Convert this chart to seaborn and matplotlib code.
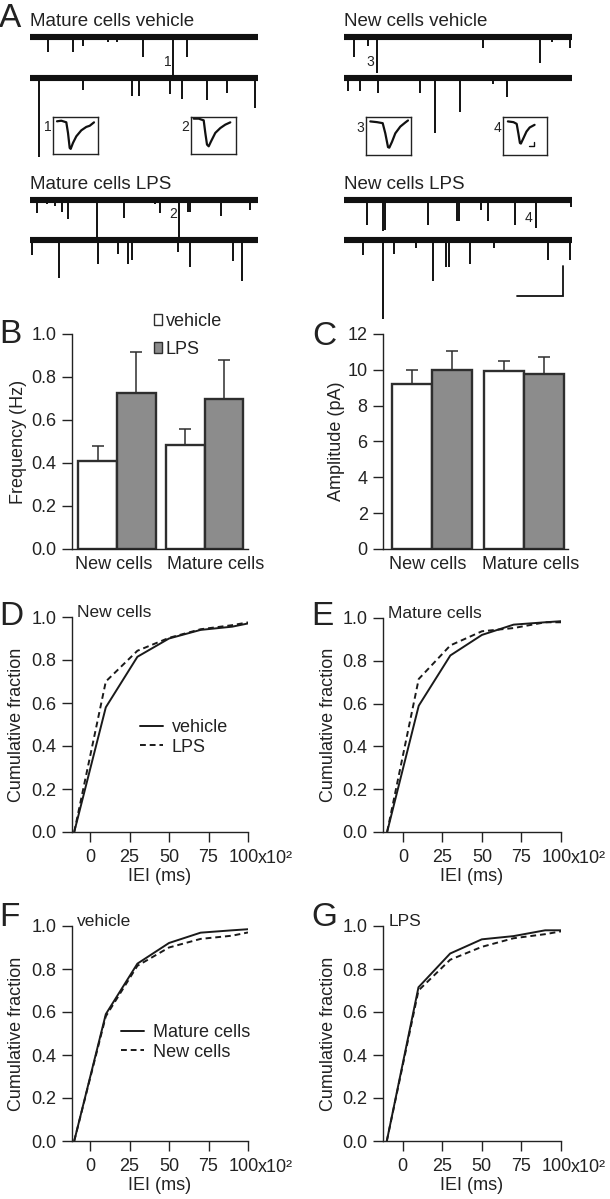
import numpy as np
import pandas as pd
import matplotlib
matplotlib.use("Agg")
import matplotlib.pyplot as plt
import seaborn as sns
from matplotlib.lines import Line2D
from matplotlib.patches import Patch
from matplotlib.transforms import ScaledTranslation

# ------------------------------------------------------------------ data
# Panel A: example sweeps -> event times (s) and event amplitudes (pA)
mature_veh_s1_t = [0.79, 1.89, 2.32, 3.42, 3.82, 4.96, 6.27, 6.89]
mature_veh_s1_a = [10, 10, 6, 3, 3, 13, 27, 13]
mature_veh_s2_t = [0.39, 2.32, 4.47, 4.78, 6.14, 6.67, 7.76, 8.64, 9.87]
mature_veh_s2_a = [53, 8, 12, 12, 11, 14, 15, 10, 20]

new_veh_s1_t = [0.44, 1.05, 1.45, 6.10, 8.60, 9.12, 9.91]
new_veh_s1_a = [13, 6, 24, 7, 17, 3, 7]
new_veh_s2_t = [0.18, 0.70, 1.49, 3.33, 3.99, 5.09, 6.54, 7.15]
new_veh_s2_a = [9, 9, 10, 10, 37, 23, 4, 13]

mature_lps_s1_t = [0.31, 0.75, 1.10, 1.40, 1.67, 2.94, 4.12, 5.48, 5.70, 6.54, 6.93, 7.02, 8.38, 9.65]
mature_lps_s1_a = [9, 3, 4, 8, 13, 25, 12, 3, 9, 25, 8, 8, 11, 7]
mature_lps_s2_t = [0.09, 1.27, 2.98, 3.86, 4.30, 4.47, 6.49, 7.02, 8.90, 9.30]
mature_lps_s2_a = [10, 25, 16, 9, 16, 13, 8, 18, 14, 27]

new_lps_s1_t = [1.01, 1.71, 1.80, 3.68, 4.96, 5.04, 6.01, 6.32, 7.50, 8.42, 9.96]
new_lps_s1_a = [17, 21, 20, 17, 14, 14, 7, 14, 17, 19, 5]
new_lps_s2_t = [0.83, 1.71, 2.19, 3.16, 3.90, 4.47, 4.61, 5.53, 6.58, 8.95, 9.91]
new_lps_s2_a = [10, 52, 9, 5, 27, 18, 18, 16, 5, 13, 13]

sweep_duration_s = 10.0
scalebar_pA, scalebar_s = 20, 2

# Panel A insets: averaged events (time ms, current pA)
avg1_t = [0, 4.3, 9.3, 11, 12.7, 13.7, 16, 19.3, 24.3, 29.3, 32.7, 37]
avg1_a = [0.07, 0.28, -0.28, -4.0, -9.3, -9.6, -7.5, -5.2, -3.1, -1.9, -1.5, -0.3]
avg2_t = [-1.3, 3.7, 8.7, 10.3, 12, 13.7, 16, 20.3, 25.3, 30.3, 35.3]
avg2_a = [1.0, 1.0, 0.4, -4.0, -8.1, -8.7, -7.0, -4.0, -2.3, -1.1, -0.3]
avg3_t = [0.3, 7, 12.7, 15.3, 18, 19.3, 22, 25.3, 30.3, 35.3, 38]
avg3_a = [0.07, -0.18, -0.53, -4.0, -8.7, -8.9, -6.9, -4.0, -1.7, -0.3, 0.4]
avg4_t = [1, 6.7, 10, 11.7, 13.3, 14.3, 16.7, 20, 23.3, 28.3]
avg4_a = [0.07, -0.18, -0.77, -4.0, -7.3, -7.5, -5.8, -3.4, -2.0, -1.1]

# Panels B, C
groups = ["New cells", "Mature cells"]
treatments = ["vehicle", "LPS"]
freq_vehicle = [0.41, 0.485]
freq_lps = [0.725, 0.697]
freq_sem_vehicle = [0.07, 0.074]
freq_sem_lps = [0.193, 0.182]
amp_vehicle = [9.23, 9.94]
amp_lps = [9.98, 9.79]
amp_sem_vehicle = [0.78, 0.54]
amp_sem_lps = [1.09, 0.95]

# Panels D-G: cumulative IEI distributions (x10^2 ms)
iei_bins = [-10, 10, 30, 50, 70, 90, 100]
cum_new_vehicle = [0.0, 0.58, 0.815, 0.90, 0.94, 0.955, 0.97]
cum_new_lps = [0.0, 0.70, 0.843, 0.903, 0.943, 0.962, 0.975]
cum_mature_vehicle = [0.0, 0.59, 0.825, 0.921, 0.969, 0.98, 0.985]
cum_mature_lps = [0.0, 0.715, 0.872, 0.938, 0.953, 0.98, 0.98]

# ------------------------------------------------------------------ style
sns.set_theme(style="ticks")
INK = "#222222"
FS = 13
plt.rcParams["font.family"] = ["Liberation Sans", "DejaVu Sans"]
plt.rcParams.update({
    "axes.linewidth": 1.0, "axes.edgecolor": INK, "axes.labelcolor": INK,
    "text.color": INK, "xtick.color": INK, "ytick.color": INK,
    "xtick.major.size": 7, "ytick.major.size": 7,
    "xtick.major.width": 1.0, "ytick.major.width": 1.0,
    "xtick.labelsize": FS, "ytick.labelsize": FS, "axes.labelsize": FS,
    "xtick.major.pad": 5.0, "ytick.major.pad": 4,
})

W, H = 610, 1199
fig = plt.figure(figsize=(W / 100, H / 100), dpi=100)


def add_ax(l, t, r, b):
    return fig.add_axes([l / W, 1 - b / H, (r - l) / W, (b - t) / H])


def ftext(px, py, s, **kw):
    fig.text(px / W, 1 - py / H, s, **kw)


def shift(artist, dx_px, dy_px=0):
    artist.set_transform(artist.get_transform() +
                         ScaledTranslation(dx_px / 100, dy_px / 100, fig.dpi_scale_trans))


LETTER = 24
# ------------------------------------------------------------------ panel A
PX_PER_S = 22.8
PX_PER_PA = 1.5
SWEEP_GAP = 27.0


def block_axes(x0, ybase):
    top, bottom = ybase - 12, ybase + 140
    ax = add_ax(x0, top, x0 + sweep_duration_s * PX_PER_S, bottom)
    ax.set_xlim(0, sweep_duration_s)
    ax.set_ylim(-(bottom - ybase) / PX_PER_PA, (ybase - top) / PX_PER_PA)
    ax.axis("off")
    return ax


def draw_sweeps(ax, sweeps):
    for i, (t, a) in enumerate(sweeps):
        base = -i * SWEEP_GAP
        ax.hlines(base, 0, sweep_duration_s, color="#111111", lw=4.4, clip_on=False)
        ax.vlines(t, base, base - np.asarray(a, float), color="#111111", lw=1.4, clip_on=False)


blocks = [
    (30, 37, "Mature cells vehicle",
     [(mature_veh_s1_t, mature_veh_s1_a), (mature_veh_s2_t, mature_veh_s2_a)], ("1", 6.05, -16.7)),
    (344, 37, "New cells vehicle",
     [(new_veh_s1_t, new_veh_s1_a), (new_veh_s2_t, new_veh_s2_a)], ("3", 1.14, -16.7)),
    (30, 200, "Mature cells LPS",
     [(mature_lps_s1_t, mature_lps_s1_a), (mature_lps_s2_t, mature_lps_s2_a)], ("2", 6.27, -9.3)),
    (344, 200, "New cells LPS",
     [(new_lps_s1_t, new_lps_s1_a), (new_lps_s2_t, new_lps_s2_a)], ("4", 8.11, -12.0)),
]
block_axes_list = []
for x0, yb, title, sweeps, lab in blocks:
    ax = block_axes(x0, yb)
    draw_sweeps(ax, sweeps)
    ax.text(lab[1], lab[2], lab[0], fontsize=10, ha="center", va="center")
    ftext(x0, yb - 11, title, fontsize=13.5, va="baseline", ha="left")
    block_axes_list.append(ax)

# scale bar (20 pA, 2 s) in the New cells LPS block
axs = block_axes_list[3]
corner_t, corner_y = 9.6, -SWEEP_GAP - 37
axs.plot([corner_t - scalebar_s, corner_t, corner_t],
         [corner_y, corner_y, corner_y + scalebar_pA], color="#111111", lw=1.3,
         solid_joinstyle="miter", clip_on=False)

ftext(-1, 27, "A", fontsize=LETTER, va="baseline")

insets = [((53, 117, 98, 154), avg1_t, avg1_a, "1"),
          ((191, 117, 236, 154), avg2_t, avg2_a, "2"),
          ((366, 117, 411, 155), avg3_t, avg3_a, "3"),
          ((503, 117, 547, 155), avg4_t, avg4_a, "4")]
for (l, t, r, b), tt, aa, lab in insets:
    ax = add_ax(l, t, r, b)
    ax.plot(tt, aa, color="#111111", lw=1.6)
    ax.set_xlim(-4, 41)
    ax.set_ylim(-(37 - 4.5) / 2.85, 4.5 / 2.85)
    ax.set_xticks([])
    ax.set_yticks([])
    for s in ax.spines.values():
        s.set_visible(True)
        s.set_linewidth(1.0)
        s.set_color(INK)
    ax.text(-0.04, 0.72, lab, transform=ax.transAxes, fontsize=10, ha="right", va="center")
    if lab == "4":
        ax.plot([22.5, 27.5, 27.5], [-8.4, -8.4, -6.9], color="#111111", lw=1.0)

# ------------------------------------------------------------------ panels B, C
EDGE = "#2e2e2e"
GRAY = "#8c8c8c"
bar_palette = {"vehicle": "white", "LPS": GRAY}


def bar_panel(ax, m_veh, m_lps, s_veh, s_lps, width, label_shift):
    df = pd.DataFrame({"group": groups * 2,
                       "treatment": ["vehicle"] * 2 + ["LPS"] * 2,
                       "value": m_veh + m_lps})
    sns.barplot(data=df, x="group", y="value", hue="treatment", order=groups,
                hue_order=treatments, palette=bar_palette, saturation=1,
                edgecolor=EDGE, linewidth=1.7, width=width, errorbar=None,
                legend=False, ax=ax)
    for cont, means, sems in zip(ax.containers, [m_veh, m_lps], [s_veh, s_lps]):
        xs = [b.get_x() + b.get_width() / 2 for b in cont]
        ax.errorbar(xs, means, yerr=[np.zeros(len(sems)), sems], fmt="none",
                    ecolor=EDGE, elinewidth=1.1, capsize=4, capthick=1.1, zorder=1)
    sns.despine(ax=ax)
    ax.tick_params(axis="x", length=0, pad=5)
    ax.set_xlabel("")
    for lab, dx in zip(ax.get_xticklabels(), label_shift):
        shift(lab, dx)


axB = add_ax(72, 334, 248, 549)
bar_panel(axB, freq_vehicle, freq_lps, freq_sem_vehicle, freq_sem_lps, 0.89, (-3, 11))
axB.set_xlim(-0.514, 1.497)
axB.set_ylim(0, 1.0)
axB.set_yticks(np.arange(0, 1.01, 0.2))
axB.set_yticklabels([f"{v:.1f}" for v in np.arange(0, 1.01, 0.2)])
axB.set_ylabel("Frequency (Hz)", labelpad=3)
ftext(-1, 343, "B", fontsize=LETTER, va="baseline")
legB = [Patch(facecolor="white", edgecolor=EDGE, lw=1.0, label="vehicle"),
        Patch(facecolor=GRAY, edgecolor=EDGE, lw=1.0, label="LPS")]
fig.legend(handles=legB, loc="upper left", bbox_to_anchor=(154 / W, 1 - 313 / H),
           frameon=False, fontsize=FS, handlelength=0.45, handleheight=0.5,
           handletextpad=0.2, labelspacing=0.6, borderpad=0, borderaxespad=0)

axC = add_ax(383, 334, 568, 549)
bar_panel(axC, amp_vehicle, amp_lps, amp_sem_vehicle, amp_sem_lps, 0.875, (-4, 7))
axC.set_xlim(-0.536, 1.486)
axC.set_ylim(0, 12)
axC.set_yticks(range(0, 13, 2))
axC.set_ylabel("Amplitude (pA)", labelpad=2)
ftext(312, 345, "C", fontsize=LETTER, va="baseline")

# ------------------------------------------------------------------ panels D-G


def cum_panel(ax, solid, dashed, names, title, xleft, ylabpad):
    df = pd.DataFrame({"iei": iei_bins * 2,
                       "frac": solid + dashed,
                       "cond": [names[0]] * len(iei_bins) + [names[1]] * len(iei_bins)})
    sns.lineplot(data=df, x="iei", y="frac", style="cond", style_order=names,
                 dashes={names[0]: "", names[1]: (3, 2)}, color="#1a1a1a",
                 linewidth=1.4, legend=False, estimator=None, sort=False, ax=ax)
    sns.despine(ax=ax)
    ax.set_xlim(xleft, 100)
    ax.set_ylim(0, 1.0)
    ax.set_yticks(np.arange(0, 1.01, 0.2))
    ax.set_yticklabels([f"{v:.1f}" for v in np.arange(0, 1.01, 0.2)])
    ax.set_xticks([0, 25, 50, 75, 100])
    ax.set_xticklabels(["0", "25", "50", "75", "100"])
    shift(ax.get_xticklabels()[-1], -4)
    ax.annotate("x10²", xy=(100, 0), xycoords=("data", "axes fraction"),
                xytext=(10, -31), textcoords="offset pixels", ha="left", va="baseline",
                fontsize=FS, annotation_clip=False)
    ax.set_xlabel("IEI (ms)", labelpad=2)
    ax.set_ylabel("Cumulative fraction", labelpad=ylabpad)
    ax.text(0.03, 1.0, title, transform=ax.transAxes, fontsize=12.5, ha="left", va="baseline")


def cum_legend(names, x_px, y_px):
    handles = [Line2D([], [], color="#1a1a1a", lw=1.4, label=names[0]),
               Line2D([], [], color="#1a1a1a", lw=1.4, ls=(0, (3, 2)), label=names[1])]
    fig.legend(handles=handles, loc="upper left", bbox_to_anchor=(x_px / W, 1 - y_px / H),
               frameon=False, fontsize=FS, handlelength=1.3, handletextpad=0.45,
               labelspacing=0.15, borderpad=0, borderaxespad=0)


axD = add_ax(72, 617, 248, 832)
cum_panel(axD, cum_new_vehicle, cum_new_lps, ["vehicle", "LPS"], "New cells", -11.4, 5)
cum_legend(["vehicle", "LPS"], 140, 719)
ftext(-1, 625, "D", fontsize=LETTER, va="baseline")

axE = add_ax(383, 618, 561, 832)
cum_panel(axE, cum_mature_vehicle, cum_mature_lps, ["vehicle", "LPS"], "Mature cells", -12.6, 4)
ftext(311, 625, "E", fontsize=LETTER, va="baseline")

axF = add_ax(72, 926, 248, 1141)
cum_panel(axF, cum_mature_vehicle, cum_new_vehicle, ["Mature cells", "New cells"], "vehicle", -11.4, 5)
cum_legend(["Mature cells", "New cells"], 121, 1024)
ftext(-1, 926, "F", fontsize=LETTER, va="baseline")

axG = add_ax(383, 926, 561, 1141)
cum_panel(axG, cum_mature_lps, cum_new_lps, ["Mature cells", "New cells"], "LPS", -12.4, 4)
ftext(311, 926, "G", fontsize=LETTER, va="baseline")

fig.savefig("out.png", dpi=100)
